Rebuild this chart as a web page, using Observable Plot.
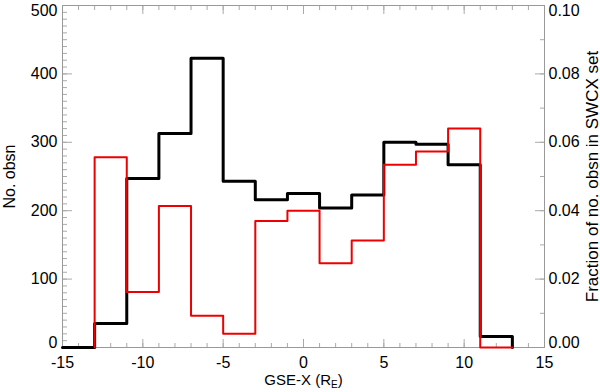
<!DOCTYPE html>
<html><head><meta charset="utf-8">
<script src="https://cdn.jsdelivr.net/npm/d3@7"></script>
<script src="https://cdn.jsdelivr.net/npm/@observablehq/plot@0.6"></script>
<style>body{margin:0;background:#fff}</style>
</head><body><div id="chart"></div>
<script>
// Bin edges (GSE-X, R_E) and histogram values
const binEdges = [-15,-13,-11,-9,-7,-5,-3,-1,1,3,5,7,9,11,13];
// Black: number of observations per bin (left axis)
const blackCounts = [0,35,247,313,423,243,216,225,204,223,300,297,267,16];
// Red: fraction of no. obsn in SWCX set per bin (right axis); first bin not drawn
const redFractions = [null,0.0556,0.0162,0.0414,0.0093,0.0040,0.0370,0.0400,0.0246,0.0313,0.0534,0.0573,0.0640,0.0];
// Tick labels
const xTicks = [-15,-10,-5,0,5,10,15];
const leftTicks = [0,100,200,300,400,500];
const rightTicks = [0.00,0.02,0.04,0.06,0.08,0.10];
const rightToLeft = 5000; // 0.10 on right axis == 500 on left axis

const xMinor = d3.range(-15, 16, 1);
const leftMinor = d3.range(0, 501, 10);
const rightMinor = d3.range(0, 11, 1).map(i => i / 100);

// step points
const blackPts = binEdges.map((e, i) => ({x: e, y: i < blackCounts.length ? blackCounts[i] : 0}));
const redPts = [];
redFractions.forEach((v, i) => {
  if (v === null) return;
  if (redPts.length === 0) redPts.push({x: binEdges[i], y: 0});
  redPts.push({x: binEdges[i], y: v * rightToLeft});
});
redPts.push({x: binEdges[binEdges.length - 1], y: 0});

const tickColor = "#aaa";
const fmtR = d => d.toFixed(2);
const FS = 16;

const plot = Plot.plot({
  width: 600, height: 392,
  marginLeft: 62, marginRight: 56, marginTop: 5, marginBottom: 45,
  style: {fontFamily: "'Liberation Sans', Arial, Helvetica, sans-serif", fontSize: "16px", background: "white", color: "black"},
  x: {domain: [-15, 15], label: null},
  y: {domain: [0, 500], label: null},
  marks: [
    // bottom axis
    Plot.axisX(xMinor, {anchor: "bottom", tickSize: -4, tickFormat: () => "", stroke: tickColor, label: null}),
    Plot.axisX(xTicks, {anchor: "bottom", tickSize: -8, tickFormat: () => "", stroke: tickColor, label: null}),
    Plot.axisX(xTicks, {anchor: "bottom", tickSize: 0, tickPadding: 9, fontSize: FS, tickFormat: d => String(d),
      label: "GSE-X (RE)", labelAnchor: "center", labelArrow: "none", labelOffset: 37}),
    // top axis ticks
    Plot.axisX(xMinor, {anchor: "top", tickSize: -4, tickFormat: () => "", stroke: tickColor, label: null}),
    Plot.axisX(xTicks, {anchor: "top", tickSize: -8, tickFormat: () => "", stroke: tickColor, label: null}),
    // left axis
    Plot.axisY(leftMinor, {anchor: "left", tickSize: -5, tickFormat: () => "", stroke: tickColor, label: null}),
    Plot.axisY(leftTicks, {anchor: "left", tickSize: -10, tickFormat: () => "", stroke: tickColor, label: null}),
    Plot.axisY(leftTicks.slice(1, -1), {anchor: "left", tickSize: 0, tickPadding: 5, fontSize: FS, tickFormat: d => String(d),
      label: "No. obsn", labelAnchor: "center", labelArrow: "none", labelOffset: 59}),
    Plot.axisY([leftTicks[0]], {anchor: "left", tickSize: 0, tickPadding: 5, dy: -5, fontSize: FS, tickFormat: d => String(d), label: null}),
    Plot.axisY([leftTicks[leftTicks.length - 1]], {anchor: "left", tickSize: 0, tickPadding: 5, dy: 5, fontSize: FS, tickFormat: d => String(d), label: null}),
    // right axis
    Plot.axisY(rightMinor.map(v => v * rightToLeft), {anchor: "right", tickSize: -5, tickFormat: () => "", stroke: tickColor, label: null}),
    Plot.axisY(rightTicks.map(v => v * rightToLeft), {anchor: "right", tickSize: -10, tickFormat: () => "", stroke: tickColor, label: null}),
    Plot.axisY(rightTicks.slice(1, -1).map(v => v * rightToLeft), {anchor: "right", tickSize: 0, tickPadding: 4, fontSize: FS,
      tickFormat: d => fmtR(d / rightToLeft),
      label: "Fraction of no. obsn in SWCX set", labelAnchor: "center", labelArrow: "none", labelOffset: 53}),
    Plot.axisY([rightTicks[0] * rightToLeft], {anchor: "right", tickSize: 0, tickPadding: 4, dy: -5, fontSize: FS, tickFormat: d => fmtR(d / rightToLeft), label: null}),
    Plot.axisY([rightTicks[rightTicks.length - 1] * rightToLeft], {anchor: "right", tickSize: 0, tickPadding: 4, dy: 5, fontSize: FS, tickFormat: d => fmtR(d / rightToLeft), label: null}),
    Plot.frame({stroke: "#999"}),
    Plot.line(blackPts, {x: "x", y: "y", curve: "step-after", stroke: "black", strokeWidth: 3}),
    Plot.line(redPts, {x: "x", y: "y", curve: "step-after", stroke: "#ee0000", strokeWidth: 2})
  ]
});
document.getElementById("chart").appendChild(plot);

// title sizes + subscript E in the x title
plot.querySelectorAll("text").forEach(t => {
  const s = t.textContent;
  if (s === "Fraction of no. obsn in SWCX set") {
    t.style.fontSize = "17px";
    t.setAttribute("font-size", "17px");
  }
  if (s === "GSE-X (RE)") {
    const ns = "http://www.w3.org/2000/svg";
    const target = t.querySelector("tspan") || t;
    t.setAttribute("font-size", "15px");
    t.style.fontSize = "15px";
    target.textContent = "GSE-X (R";
    const sub = document.createElementNS(ns, "tspan");
    sub.setAttribute("font-size", "10px");
    sub.setAttribute("dy", "3");
    sub.textContent = "E";
    const close = document.createElementNS(ns, "tspan");
    close.setAttribute("dy", "-3");
    close.textContent = ")";
    target.appendChild(sub);
    target.appendChild(close);
  }
});
</script>
</body></html>
